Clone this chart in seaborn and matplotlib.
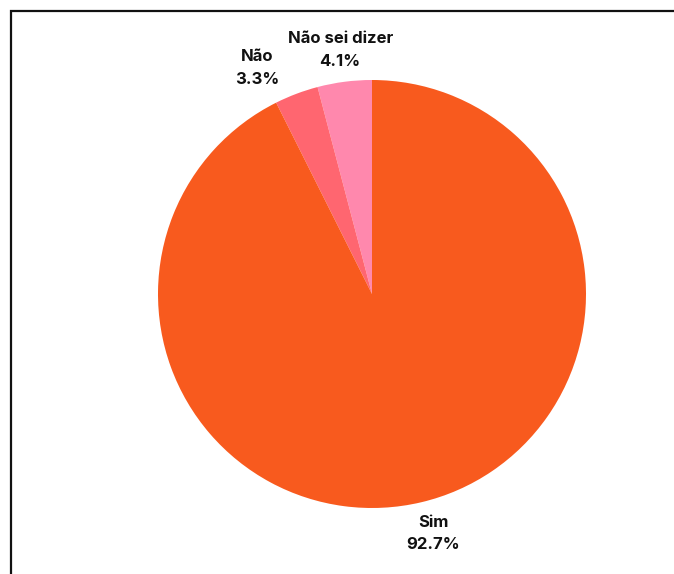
import matplotlib
matplotlib.use("Agg")
import matplotlib.pyplot as plt
import seaborn as sns
from matplotlib.patches import Rectangle

categories = ["Não sei dizer", "Não", "Sim"]
values = [4.1, 3.3, 92.7]
colors = ["#FF88AD", "#FF6670", "#F85A1E"]

sns.set_theme(style="white")
plt.rcParams['font.family'] = ['Inter', 'DejaVu Sans']

W, H = 674, 574
fig = plt.figure(figsize=(W / 100, H / 100), dpi=100)
fig.patch.set_facecolor("white")

# frame (open on right and bottom)
fig.add_artist(Rectangle((11 / W, -0.1), 1.2, (H - 11) / H + 0.1, transform=fig.transFigure,
                         fill=False, edgecolor="#111111", linewidth=1.6))

cx, cy, r = 372, 294, 214
side = 2.5 * r
ax = fig.add_axes([(cx - side / 2) / W, (H - cy - side / 2) / H, side / W, side / H])

labels = [f"{c}\n{v:.1f}%" for c, v in zip(categories, values)]
wedges, texts = ax.pie(values, labels=labels, colors=colors, startangle=90, counterclock=True,
                       labeldistance=1.16, wedgeprops=dict(linewidth=0),
                       textprops=dict(fontsize=12, fontweight="bold", color="#111111",
                                      linespacing=1.65))
for t in texts:
    t.set_horizontalalignment("center")
    t.set_verticalalignment("center")
# nudge the small "Não" label sideways so it does not collide with its neighbour
x1, y1 = texts[1].get_position()
texts[1].set_position((x1 - 0.125, y1 - 0.03))
x0, y0 = texts[0].get_position()
texts[0].set_position((x0, y0 - 0.01))
x2, y2 = texts[2].get_position()
texts[2].set_position((x2 + 0.02, y2 + 0.01))
ax.set_aspect("equal")

fig.savefig("out.png", dpi=100, facecolor="white")
